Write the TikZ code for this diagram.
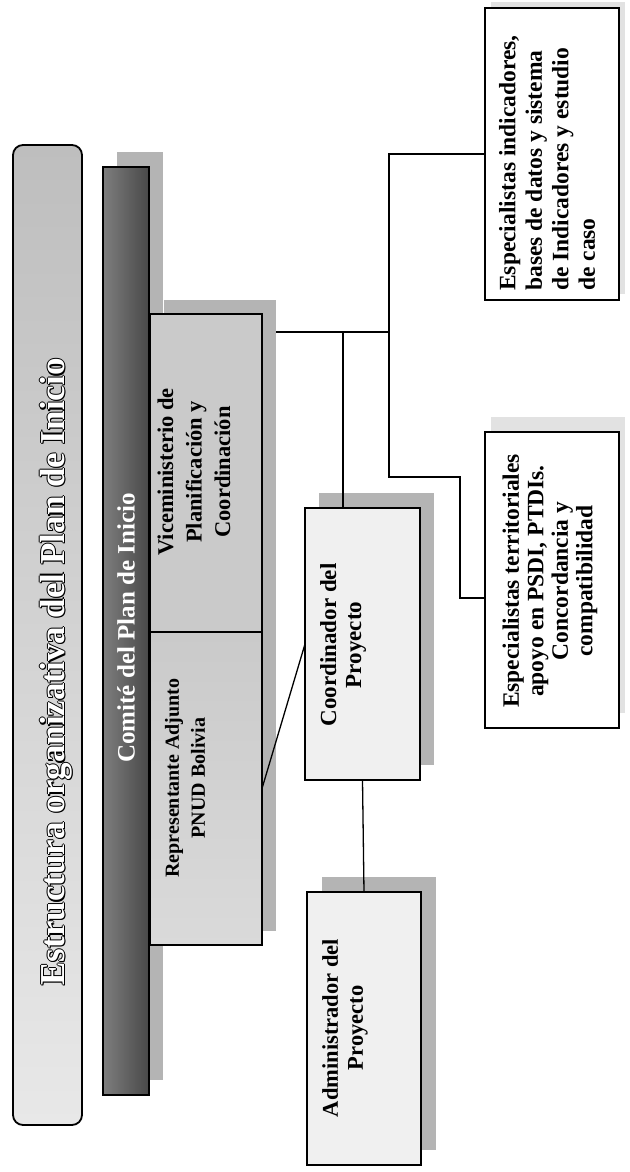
\documentclass[tikz,border=0pt]{standalone}
\usepackage{fontspec}
\setmainfont{Liberation Serif}
\usetikzlibrary{calc}
\pgfdeclarelayer{bg}
\pgfdeclarelayer{back}
\pgfsetlayers{back,bg,main}
\definecolor{shadowc}{HTML}{B4B4B4}
\definecolor{lightshadow}{HTML}{E2E2E2}
\definecolor{cellc}{HTML}{CACACA}
\definecolor{palec}{HTML}{F0F0F0}
\definecolor{titletop}{HTML}{BEBEBE}
\definecolor{titlebot}{HTML}{E8E8E8}
\definecolor{darkl}{HTML}{7E7E7E}
\definecolor{darkr}{HTML}{484848}
\begin{document}
\begin{tikzpicture}[x=1pt,y=-1pt,line join=miter,
  box/.style={draw=black,line width=1.8pt,inner sep=0pt,outer sep=0pt},
  conn/.style={draw=black,line width=1.3pt},
  rtxt/.style={rotate=90,align=center,inner sep=0pt,font=\bfseries\fontsize{22.5}{25}\selectfont},
  ttxt/.style={rotate=90,inner sep=0pt,font=\bfseries\fontsize{35}{40}\selectfont}]
\useasboundingbox (0,0) rectangle (629,1172);
\begin{pgfonlayer}{back}
  \fill[white] (0,0) rectangle (629,1172);
\end{pgfonlayer}

% boxes
\node[box,rounded corners=10pt,top color=titletop,bottom color=titlebot,minimum width=69pt,minimum height=980pt] (title) at (47.5,635) {};
\node[box,left color=darkl,right color=darkr,minimum width=46pt,minimum height=928pt] (comite) at (126,631) {};
\node[box,fill=cellc,minimum width=112pt,minimum height=318pt] (vice) at (206,473) {};
\node[box,top color=cellc,bottom color=cellc!70!white,minimum width=112pt,minimum height=313pt] (rep) at (206,788.5) {};
\node[box,fill=palec,minimum width=115pt,minimum height=272pt] (coord) at (362.5,644) {};
\node[box,fill=palec,minimum width=114pt,minimum height=273pt] (admin) at (364,1028.5) {};
\node[box,fill=white,minimum width=134pt,minimum height=296pt] (terr) at (552,580) {};
\node[box,fill=white,minimum width=134pt,minimum height=292pt] (ind) at (552,154) {};

% junctions
\coordinate (j1) at (389,332);
\coordinate (j2) at (343,332);
\coordinate (t1) at (460,477);

\begin{pgfonlayer}{bg}
  \fill[shadowc] ([xshift=14pt,yshift=15pt]comite.south west) rectangle ([xshift=14pt,yshift=15pt]comite.north east);
  \fill[shadowc] ([xshift=14pt,yshift=14pt]rep.south west) rectangle ([xshift=14pt,yshift=14pt]vice.north east);
  \fill[shadowc] ([xshift=14pt,yshift=15pt]coord.south west) rectangle ([xshift=14pt,yshift=15pt]coord.north east);
  \fill[shadowc] ([xshift=15pt,yshift=15pt]admin.south west) rectangle ([xshift=15pt,yshift=15pt]admin.north east);
  \fill[lightshadow] ([xshift=6pt,yshift=15pt]terr.south west) rectangle ([xshift=6pt,yshift=15pt]terr.north east);
  \fill[lightshadow] ([xshift=6pt,yshift=6pt]ind.south west) rectangle ([xshift=6pt,yshift=6pt]ind.north east);
  % connectors
  \draw[conn] ([xshift=14pt]vice.east |- j1) -- (j1) |- (ind.west);
  \draw[conn] (j2) -- (coord.north -| j2);
  \draw[conn] (j1) |- (t1) |- ([yshift=-18pt]terr.west);
  \draw[conn] (rep.east) -- (coord.west);
  \draw[conn] (coord.south) -- (admin.north);
\end{pgfonlayer}

% title text (white with dark outline)
\foreach \dx/\dy [count=\i] in {1.1/0,-1.1/0,0/1.1,0/-1.1,1.2/1.2}{
  \node[ttxt,text=black] (tsh\i) at (56+\dx,672+\dy) {Estructura organizativa del Plan de Inicio};
}
\node[ttxt,text=white] (ttl) at (56,672) {Estructura organizativa del Plan de Inicio};

\node[rtxt,text=white,font=\bfseries\fontsize{25}{28}\selectfont] (comtxt) at (126,628) {Comité del Plan de Inicio};
\node[rtxt,font=\bfseries\fontsize{22.5}{28.5}\selectfont] (vicetxt) at (194,472) {Viceministerio de\\Planificación y\\Coordinación};
\node[rtxt,font=\bfseries\fontsize{20}{26}\selectfont] (reptxt) at (185,778) {Representante Adjunto\\PNUD Bolivia};
\node[rtxt,font=\bfseries\fontsize{23}{25}\selectfont] (coordtxt) at (343,645) {Coordinador del\\Proyecto};
\node[rtxt] (admintxt) at (345,1028) {Administrador del\\Proyecto};
\node[rtxt,font=\bfseries\fontsize{23.5}{24.5}\selectfont] (terrtxt) at (550,581) {Especialistas territoriales\\apoyo en PSDI, PTDIs.\\Concordancia y\\compatibilidad};
\node[rtxt,anchor=west,align=left,font=\bfseries\fontsize{23.5}{26.5}\selectfont] (indtxt) at (547,291) {Especialistas indicadores,\\bases de datos y sistema\\de Indicadores y estudio\\de caso};
\end{tikzpicture}
\end{document}
